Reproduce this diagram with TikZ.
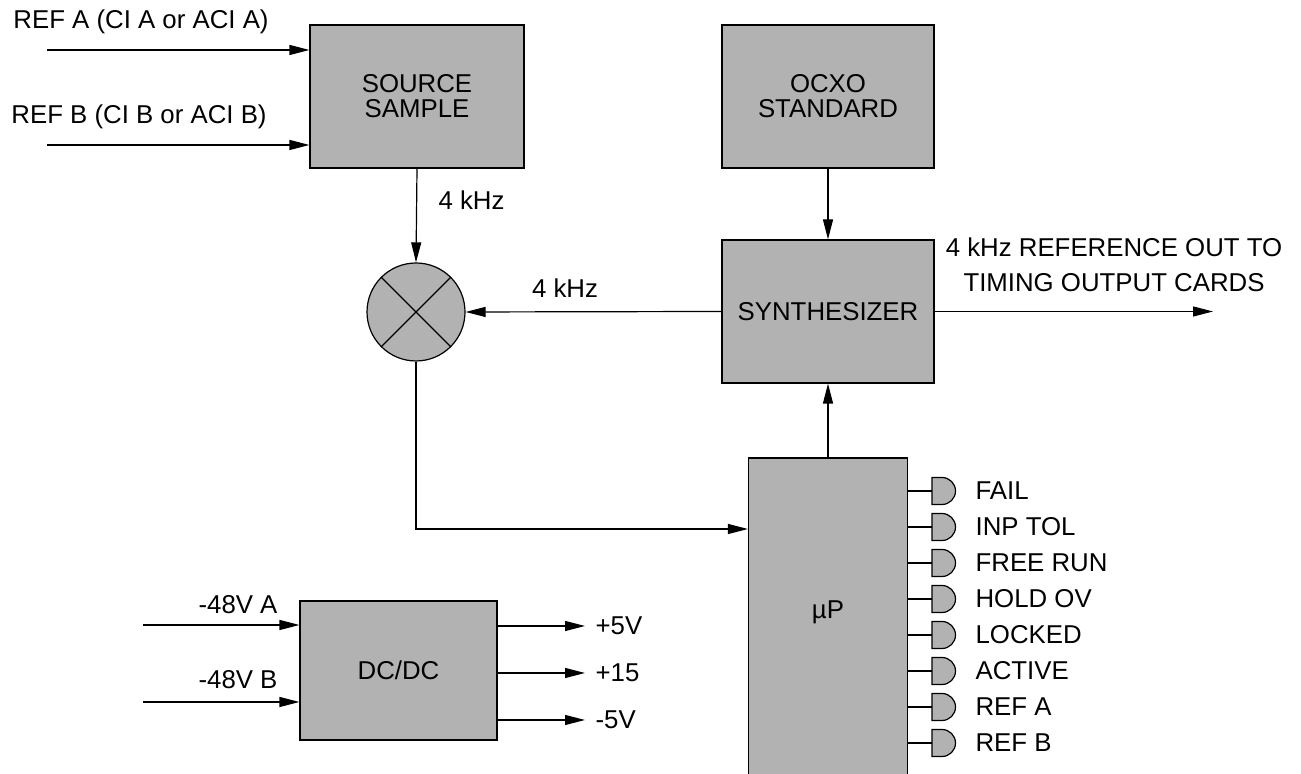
\documentclass[tikz,border=0pt]{standalone}
\usepackage{fontspec}
\setmainfont{Liberation Sans}
\usetikzlibrary{arrows.meta}
\begin{document}
\begin{tikzpicture}[x=0.5pt,y=0.5pt,
  font=\fontsize{12.9}{12.5}\selectfont,
  line width=0.6pt,
  blk/.style={draw,fill=gray!60,align=center,inner sep=0pt},
  arr/.style={-{Triangle[length=10pt,width=5pt]}},
  lbl/.style={inner sep=0pt}]
\useasboundingbox (0,0) rectangle (1301,774);
% blocks
\node[blk,minimum width=107pt,minimum height=71.5pt] (src) at (417,677.5) {SOURCE\\SAMPLE};
\node[blk,minimum width=106pt,minimum height=71.5pt] (ocxo) at (828,677.5) {OCXO\\STANDARD};
\node[blk,minimum width=106pt,minimum height=71.5pt] (syn) at (828,462.5) {SYNTHESIZER};
\node[blk,circle,minimum size=49pt] (mix) at (416,462) {};
\draw (mix.north west) -- (mix.south east) (mix.north east) -- (mix.south west);
\node[blk,minimum width=79.5pt,minimum height=159pt,label={[yshift=2.5pt]center:µP}] (mu) at (828,157) {};
\node[blk,minimum width=98.5pt,minimum height=69.5pt] (dc) at (398.5,103.5) {DC/DC};
% inputs to source
\coordinate (ra) at (47,724);
\coordinate (rb) at (47,629);
\draw[arr] (ra) -- (ra -| src.west);
\draw[arr] (rb) -- (rb -| src.west);
\node[lbl] (lra) at (141,752) {REF A (CI A or ACI A)};
\node[lbl] (lrb) at (139,657) {REF B (CI B or ACI B)};
% source to mixer
\draw[arr] (src.south) -- (mix.north);
\node[lbl,anchor=west] (l4a) at (438,574) {4 kHz};
% ocxo to synth
\draw[arr] (ocxo.south) -- (syn.north);
% synth to mixer
\draw[arr] (syn.west) -- (mix.east);
\node[lbl] (l4b) at (565,486) {4 kHz};
% synth out
\coordinate (out) at (1213,462.5);
\draw[arr] (syn.east) -- (out);
\node[lbl,align=center,font=\fontsize{12.9}{17.5}\selectfont] (lout) at (1114,509) {4 kHz REFERENCE OUT TO\\TIMING OUTPUT CARDS};
% mu to synth
\draw[arr] (mu.north) -- (syn.south);
% mixer to mu
\draw[arr] (mix.south) |- (mu.west |- 0,245);
% DC inputs
\coordinate (da) at (143,149);
\coordinate (db) at (143,72);
\draw[arr] (da) -- (da -| dc.west);
\draw[arr] (db) -- (db -| dc.west);
\node[lbl] (lda) at (238,169) {-48V A};
\node[lbl] (ldb) at (238,94) {-48V B};
% DC outputs
\foreach \yy/\t [count=\i] in {148/+5V,101/+15,54/-5V}{
  \coordinate (o\i) at (585,\yy);
  \draw[arr] (dc.east |- o\i) -- (o\i);
  \node[lbl,anchor=west] (lo\i) at (595,\yy) {\t};
}
% LEDs
\foreach \yy/\t [count=\i] in {283/FAIL,247/INP TOL,211/FREE RUN,175/HOLD OV,139/LOCKED,103/ACTIVE,67/REF A,31/REF B}{
  \coordinate (s\i) at (932,\yy);
  \draw (mu.east |- s\i) -- (s\i);
  \draw[fill=gray!60] (932,\yy+13.5) -- (942,\yy+13.5) arc[start angle=90,end angle=-90,radius=13.5] -- (932,\yy-13.5) -- cycle;
  \node[lbl,anchor=west] (led\i) at (975,\yy) {\t};
}
\end{tikzpicture}
\end{document}
